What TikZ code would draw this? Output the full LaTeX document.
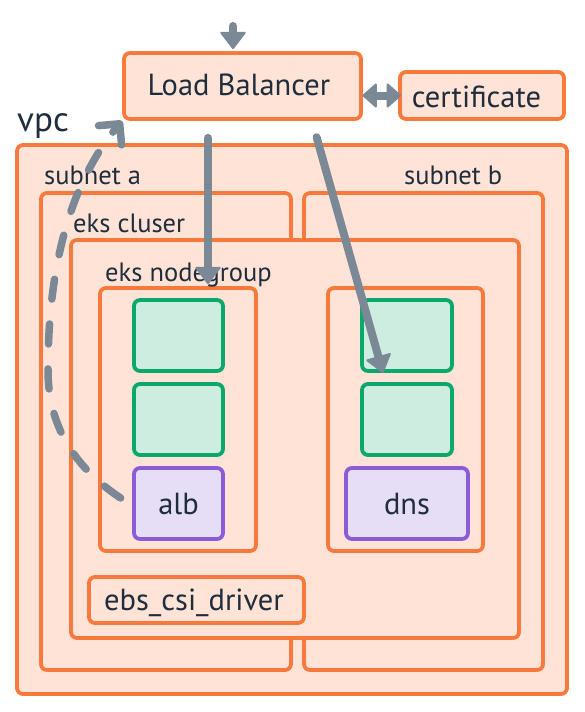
\documentclass[tikz,border=0pt]{standalone}
\usepackage{fontspec}
\setmainfont{PT Sans}
\usetikzlibrary{arrows.meta,calc}
\definecolor{ostroke}{HTML}{F7793B}
\definecolor{ofill}{HTML}{FFE3D7}
\definecolor{gstroke}{HTML}{0AA86B}
\definecolor{gfill}{HTML}{CCEDE0}
\definecolor{pstroke}{HTML}{8A5CD6}
\definecolor{pfill}{HTML}{E6DEF6}
\definecolor{agrey}{HTML}{7B8896}
\definecolor{txt}{HTML}{1F2D3D}
\begin{document}
\begin{tikzpicture}[x=1pt,y=-1pt,
  box/.style={draw=ostroke, fill=ofill, line width=3.8pt, rounded corners=6pt, inner sep=0pt},
  gbox/.style={draw=gstroke, fill=gfill, line width=3.8pt, rounded corners=6pt, inner sep=0pt, minimum width=89pt, minimum height=71pt},
  pbox/.style={draw=pstroke, fill=pfill, line width=3.8pt, rounded corners=6pt, inner sep=0pt, minimum height=71pt},
  grouplbl/.style={inner sep=0pt, text=txt, anchor=base west, font=\fontsize{26.5}{30}\selectfont},
  nodelbl/.style={inner sep=0pt, text=txt, anchor=base, font=\fontsize{30.5}{34}\selectfont},
  arr/.style={draw=agrey, line width=8pt, line cap=round, -{Triangle[width=27pt,length=18pt,line width=2pt,round]}},
  dblarr/.style={draw=agrey, line width=8pt, {Triangle[width=26pt,length=15pt,line width=2pt,round]}-{Triangle[width=26pt,length=15pt,line width=2pt,round]}},
  dasharr/.style={draw=agrey, line width=7.5pt, line cap=round, dash pattern=on 20pt off 25pt, -{Straight Barb[width=30pt,length=15pt,line width=7.5pt,round]}}
]
\useasboundingbox (0,0) rectangle (584,712);

% containers
\node[box, minimum width=550pt, minimum height=549pt] (vpc) at (292,419.5) {};
\node[grouplbl, font=\fontsize{35}{40}\selectfont] (vpclbl) at (17,131) {vpc};

\node[box, minimum width=250pt, minimum height=477pt] (subA) at (166,431.5) {};
\node[box, minimum width=239pt, minimum height=477pt] (subB) at (423.5,431.5) {};
\node[grouplbl] (subAlbl) at (44,184) {subnet a};
\node[grouplbl] (subBlbl) at (404,184) {subnet b};

\node[box, minimum width=448pt, minimum height=398pt] (cluster) at (295,439) {};
\node[grouplbl] (clusterlbl) at (73,232) {eks cluser};

\node[box, minimum width=156pt, minimum height=263pt] (ngA) at (178,419.5) {};
\node[box, minimum width=155pt, minimum height=263pt] (ngB) at (405.5,419.5) {};
\node[grouplbl] (nglbl) at (105,281) {eks nodegroup};

% pods
\node[gbox] (gA1) at (178.5,335.5) {};
\node[gbox] (gA2) at (178.5,419.5) {};
\node[pbox, minimum width=89pt] (alb) at (178.5,503.5) {};
\node[nodelbl] (alblbl) at ([yshift=-10.5pt]alb.center) {alb};

\node[gbox, minimum width=90pt] (gB1) at (407,335.5) {};
\node[gbox, minimum width=90pt] (gB2) at (407,419.5) {};
\node[pbox, minimum width=122pt] (dns) at (407,503.5) {};
\node[nodelbl] (dnslbl) at ([yshift=-11pt]dns.center) {dns};

\node[box, minimum width=215pt, minimum height=46pt] (ebs) at (196.5,600) {};
\node[nodelbl] (ebslbl) at ([xshift=-2.5pt,yshift=-10pt]ebs.center) {ebs\_csi\_driver};

% top
\node[box, minimum width=237pt, minimum height=66pt] (lb) at (242.5,86) {};
\node[nodelbl] (lblbl) at ([xshift=-3.5pt,yshift=-9pt]lb.center) {Load Balancer};
\node[box, minimum width=164pt, minimum height=47pt] (cert) at (482,95.5) {};
\node[nodelbl] (certlbl) at ([xshift=-5.5pt,yshift=-11.5pt]cert.center) {certificate};

% connectors
\coordinate (src) at (233,26);
\draw[arr, shorten >=2pt] (src) -- (src |- lb.north);
\draw[arr, shorten <=17pt, shorten >=2pt] ([xshift=-34.5pt]lb.south) -- ([xshift=-34.5pt]lb.south |- ngA.north);
\draw[arr, shorten <=17pt] ([xshift=69.5pt]lb.south) -- ([xshift=-24pt]gB1.south);
\draw[dblarr, shorten <=-0.5pt, shorten >=-3pt] (lb.east |- cert.west) -- (cert.west);
\draw[dasharr] ([shift={(-11.5pt,5.5pt)}]alb.west) .. controls (61.2,458.5) and (48,410) .. (48,370)
  .. controls (48,270) and (68.8,184.6) .. (lb.south west);
\end{tikzpicture}
\end{document}
